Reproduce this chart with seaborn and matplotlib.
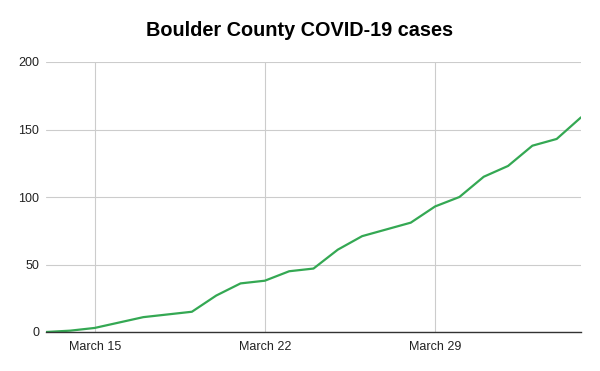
import matplotlib
matplotlib.use("Agg")
import matplotlib.pyplot as plt
import seaborn as sns
import pandas as pd

dates = pd.date_range("2020-03-13", "2020-04-04", freq="D")
cases = [0, 1, 3, 7, 11, 13, 15, 27, 36, 38, 45, 47, 61, 71, 76, 81,
         93, 100, 115, 123, 138, 143, 159]
tick_dates = pd.to_datetime(["2020-03-15", "2020-03-22", "2020-03-29"])
tick_labels = ["March 15", "March 22", "March 29"]
y_ticks = [0, 50, 100, 150, 200]

df = pd.DataFrame({"date": dates, "cases": cases})

sns.set_theme(style="white")
plt.rcParams["font.family"] = ["Liberation Sans", "DejaVu Sans"]

fig = plt.figure(figsize=(6, 3.71), dpi=100)
ax = fig.add_axes([46/600, 1-332/371, (581-46)/600, (332-62)/371])

sns.lineplot(data=df, x="date", y="cases", ax=ax, color="#34a853", linewidth=1.6)

ax.set_xlim(dates[0], dates[-1])
ax.set_ylim(0, 200)
ax.set_xticks(tick_dates)
ax.set_xticklabels(tick_labels)
ax.set_yticks(y_ticks)
ax.set_yticklabels([str(v) for v in y_ticks])
ax.grid(True, color="#cccccc", linewidth=0.8)
ax.set_axisbelow(True)
for s in ["top", "right", "left"]:
    ax.spines[s].set_visible(False)
ax.spines["bottom"].set_color("#333333")
ax.spines["bottom"].set_linewidth(1.0)
ax.tick_params(axis="both", length=0, labelsize=9, colors="#222222")
ax.tick_params(axis="x", pad=6.5)
ax.tick_params(axis="y", pad=5)
ax.set_xlabel("")
ax.set_ylabel("")

fig.text(0.5, 1-31/371, "Boulder County COVID-19 cases", ha="center", va="center",
         fontsize=14.3, fontweight="bold", color="#000000")

fig.savefig("out.png", dpi=100, facecolor="white")
